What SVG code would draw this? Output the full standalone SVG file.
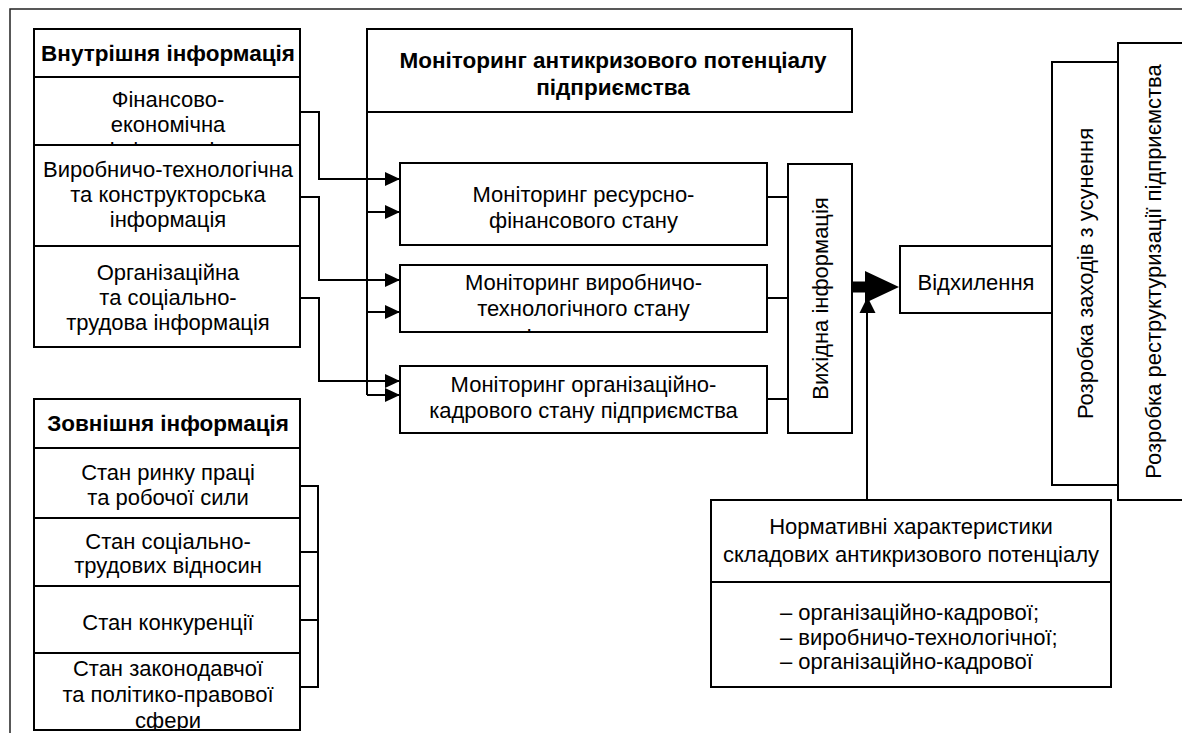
<svg xmlns="http://www.w3.org/2000/svg" width="1182" height="733" viewBox="0 0 1182 733">
  <style>
    .box { fill: #fff; stroke: #000; stroke-width: 2; }
    .t { font-family: "Liberation Sans", Arial, sans-serif; font-size: 22px; fill: #000; text-anchor: middle; }
    .tl { font-family: "Liberation Sans", Arial, sans-serif; font-size: 22px; fill: #000; text-anchor: start; }
    .b { font-weight: bold; font-size: 22.5px; }
    .ln { fill: none; stroke: #000; stroke-width: 2; }
    .frame { fill: none; stroke: #222; stroke-width: 1.5; }
  </style>
  <defs>
    <marker id="arr" markerUnits="userSpaceOnUse" markerWidth="16" markerHeight="16" refX="15" refY="7" orient="auto">
      <path d="M0,0 L15,7 L0,14 Z" fill="#000"/>
    </marker>
    <clipPath id="clipFin"><rect x="35" y="78" width="264" height="66"/></clipPath>
    <clipPath id="clipMon2"><rect x="401" y="266" width="365" height="65"/></clipPath>
    <clipPath id="clipLaw"><rect x="35" y="654" width="264" height="75"/></clipPath>
  </defs>

  <!-- outer frame: only its top and left edges fall inside the sheet -->
  <path class="frame" d="M10,733 V9 H1182"/>

  <!-- internal information block -->
  <g id="internal-title">
    <rect class="box" x="34" y="29" width="266" height="48"/>
    <text class="t b" x="168" y="61">Внутрішня інформація</text>
  </g>
  <g id="internal-finance">
    <rect class="box" x="34" y="77" width="266" height="68"/>
    <text class="t" x="168" y="107" clip-path="url(#clipFin)">Фінансово-<tspan x="168" dy="25">економічна</tspan><tspan x="168" dy="26">інформація</tspan></text>
  </g>
  <g id="internal-production">
    <rect class="box" x="34" y="145" width="266" height="101"/>
    <text class="t" x="168" y="177">Виробничо-технологічна<tspan x="168" dy="25">та конструкторська</tspan><tspan x="168" dy="25">інформація</tspan></text>
  </g>
  <g id="internal-organisation">
    <rect class="box" x="34" y="246" width="266" height="101"/>
    <text class="t" x="168" y="280">Організаційна<tspan x="168" dy="25">та соціально-</tspan><tspan x="168" dy="25">трудова інформація</tspan></text>
  </g>

  <!-- external information block -->
  <g id="external-title">
    <rect class="box" x="34" y="399" width="266" height="49"/>
    <text class="t b" x="168" y="431">Зовнішня інформація</text>
  </g>
  <g id="external-labour">
    <rect class="box" x="34" y="448" width="266" height="70"/>
    <text class="t" x="168" y="480">Стан ринку праці<tspan x="168" dy="25">та робочої сили</tspan></text>
  </g>
  <g id="external-social">
    <rect class="box" x="34" y="518" width="266" height="68"/>
    <text class="t" x="168" y="549">Стан соціально-<tspan x="168" dy="24">трудових відносин</tspan></text>
  </g>
  <g id="external-competition">
    <rect class="box" x="34" y="586" width="266" height="67"/>
    <text class="t" x="168" y="630">Стан конкуренції</text>
  </g>
  <g id="external-legal">
    <rect class="box" x="34" y="653" width="266" height="77"/>
    <text class="t" x="168" y="676" clip-path="url(#clipLaw)">Стан законодавчої<tspan x="168" dy="26">та політико-правової</tspan><tspan x="168" dy="26">сфери</tspan></text>
  </g>

  <!-- monitoring block -->
  <g id="monitoring-title">
    <rect class="box" x="367" y="29" width="485" height="83"/>
    <text class="t b" x="613" y="68">Моніторинг антикризового потенціалу<tspan x="613" dy="27">підприємства</tspan></text>
  </g>
  <g id="monitoring-finance">
    <rect class="box" x="400" y="163" width="367" height="82"/>
    <text class="t" x="583.5" y="202">Моніторинг ресурсно-<tspan x="583.5" dy="26">фінансового стану</tspan></text>
  </g>
  <g id="monitoring-production">
    <rect class="box" x="400" y="265" width="367" height="67"/>
    <text class="t" x="583.5" y="290" clip-path="url(#clipMon2)">Моніторинг виробничо-<tspan x="583.5" dy="26">технологічного стану</tspan><tspan x="583.5" dy="29">підприємства</tspan></text>
  </g>
  <g id="monitoring-staff">
    <rect class="box" x="400" y="366" width="367" height="67"/>
    <text class="t" x="583.5" y="392">Моніторинг організаційно-<tspan x="583.5" dy="26">кадрового стану підприємства</tspan></text>
  </g>

  <g id="output-info">
    <rect class="box" x="788" y="164" width="64" height="269"/>
    <text class="t" transform="translate(828 298.5) rotate(-90)">Вихідна інформація</text>
  </g>
  <g id="deviation">
    <rect class="box" x="900" y="246" width="152" height="67"/>
    <text class="t" x="976" y="290">Відхилення</text>
  </g>
  <g id="measures">
    <rect class="box" x="1052" y="62" width="66" height="423"/>
    <text class="t" transform="translate(1093 273.5) rotate(-90)">Розробка заходів з усунення</text>
  </g>
  <g id="restructuring">
    <rect class="box" x="1118" y="43" width="68" height="457"/>
    <text class="t" transform="translate(1161 271.5) rotate(-90)">Розробка реструктуризації підприємства</text>
  </g>
  <g id="norms">
    <rect class="box" x="711" y="500" width="400" height="187"/>
    <line class="ln" x1="711" y1="582" x2="1111" y2="582"/>
    <text class="t" x="911" y="534">Нормативні характеристики<tspan x="911" dy="28">складових антикризового потенціалу</tspan></text>
    <text class="tl" x="780" y="620">– організаційно-кадрової;<tspan x="780" dy="24.5">– виробничо-технологічної;</tspan><tspan x="780" dy="24.5">– організаційно-кадрової</tspan></text>
  </g>

  <!-- connectors -->
  <g id="connectors">
    <!-- internal sources to the monitoring boxes -->
    <path class="ln" d="M300,112 H319 V179 H400" marker-end="url(#arr)"/>
    <path class="ln" d="M300,197 H319 V280 H400" marker-end="url(#arr)"/>
    <path class="ln" d="M300,298 H319 V381 H400" marker-end="url(#arr)"/>
    <!-- spine from the monitoring title -->
    <path class="ln" d="M367,112 V395"/>
    <path class="ln" d="M367,212 H400" marker-end="url(#arr)"/>
    <path class="ln" d="M367,312 H400" marker-end="url(#arr)"/>
    <path class="ln" d="M367,395 H400" marker-end="url(#arr)"/>
    <!-- external sources bracket -->
    <path class="ln" d="M300,486 H318 V687 H300 M300,552 H318 M300,620 H318"/>
    <!-- monitoring boxes to output info -->
    <path class="ln" d="M767,197 H788 M767,298 H788 M767,399 H788"/>
    <!-- thick arrow to deviation -->
    <path d="M852,281.5 H865 V271 L899,287 L865,303 V292.5 H852 Z" fill="#000"/>
    <!-- norms up to the comparison point -->
    <path class="ln" d="M867,500 V312"/>
    <path d="M859.5,313 L867.5,297 L875.5,313 Z" fill="#000"/>
  </g>
</svg>
